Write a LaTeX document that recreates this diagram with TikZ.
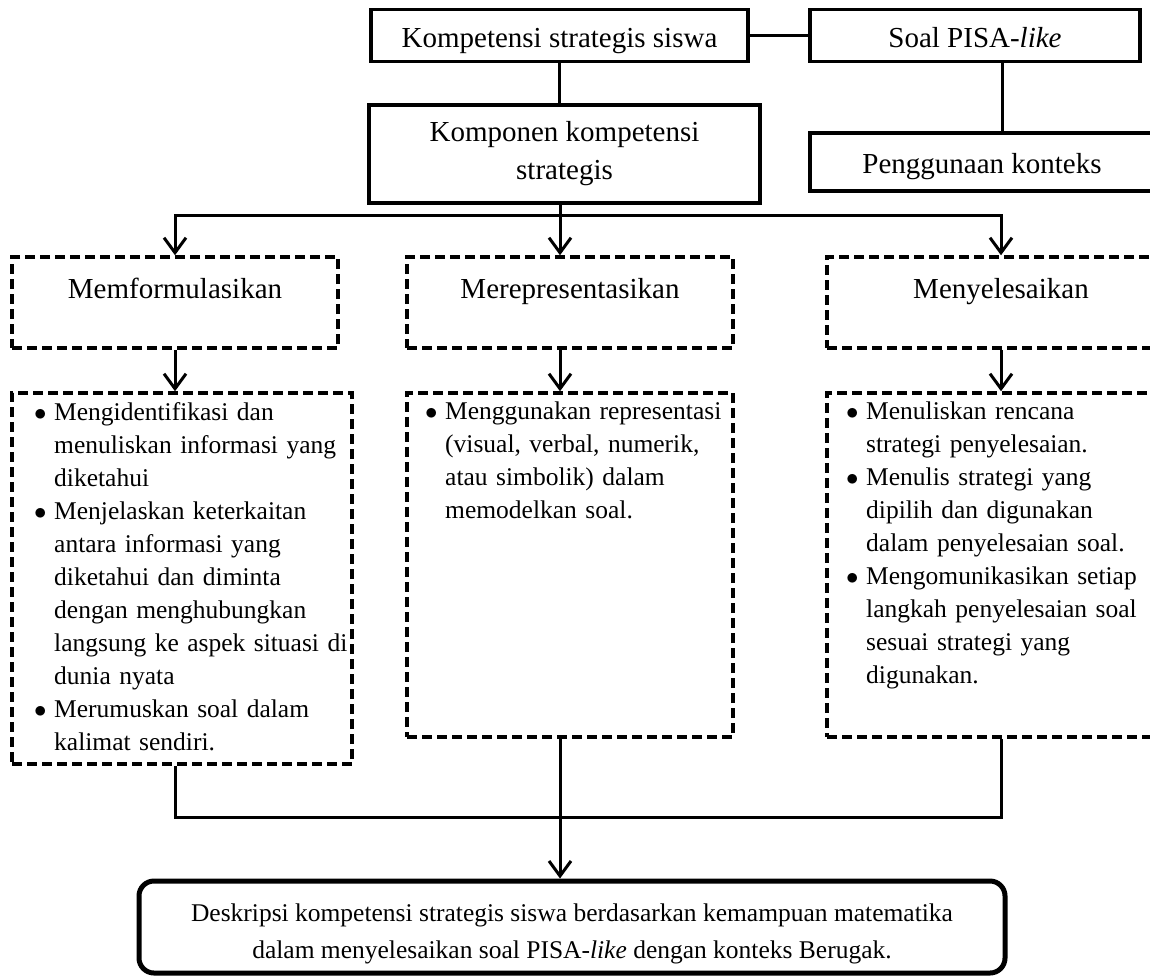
\documentclass[tikz,border=0pt]{standalone}
\usepackage{fontspec}
\setmainfont{Liberation Serif}
\usetikzlibrary{arrows.meta}

\newcommand{\headfont}{\fontsize{29}{38}\selectfont}
\newcommand{\bodyfont}{\fontsize{25.5}{33}\selectfont}
\newcommand{\itm}{\hangindent=20pt\hangafter=1\noindent\makebox[20pt][l]{$\bullet$}}

\begin{document}
\begin{tikzpicture}[x=1pt,y=1pt,yscale=-1,
  solidbox/.style={draw,line width=3.5pt,inner sep=0pt,font=\headfont},
  onerow/.style={text height=23pt,text depth=0pt},
  dashbox/.style={draw,line width=3.5pt,dash pattern=on 10pt off 5pt,inner sep=0pt},
  dashhead/.style={dashbox,font=\headfont,text height=20pt,text depth=29pt},
  itemtext/.style={anchor=north west,inner sep=0pt,text width=320pt,align=left,font=\bodyfont},
  link/.style={line width=3pt},
  arrowlink/.style={link,-{Straight Barb[length=15pt,width=22pt]}}]
\useasboundingbox (0,0) rectangle (1150,977);
\clip (0,0) rectangle (1150,977);

%Shape: Rectangle
\node[solidbox,onerow,minimum width=377pt,minimum height=52pt] (siswa) at (559.5,35.5) {Kompetensi strategis siswa};
%Shape: Rectangle
\node[solidbox,onerow,minimum width=330pt,minimum height=52pt] (pisa) at (975,35.5) {Soal PISA-\textit{like}};
%Shape: Rectangle
\node[solidbox,align=center,minimum width=391pt,minimum height=98pt] (komponen) at (564.5,154) {Komponen kompetensi\\strategis};
%Shape: Rectangle
\node[solidbox,onerow,minimum width=344pt,minimum height=58pt] (konteks) at (982,162) {Penggunaan konteks};

%Shape: Rectangle
\node[dashhead,minimum width=326pt,minimum height=91pt] (formulasi) at (175,302.5) {Memformulasikan};
%Shape: Rectangle
\node[dashhead,minimum width=326pt,minimum height=91pt] (representasi) at (570,302.5) {Merepresentasikan};
%Shape: Rectangle
\node[dashhead,minimum width=348pt,minimum height=91pt] (selesai) at (1001,302.5) {Menyelesaikan};

%Shape: Rectangle
\node[dashbox,minimum width=340pt,minimum height=371pt] (formBox) at (182,578.5) {};
%Shape: Rectangle
\node[dashbox,minimum width=326pt,minimum height=344pt] (repBox) at (570,565) {};
%Shape: Rectangle
\node[dashbox,minimum width=348pt,minimum height=344pt] (selBox) at (1001,565) {};

% Text Node
\node[itemtext] (formItems) at (34,402) {\itm Mengidentifikasi dan\newline menuliskan informasi yang\newline diketahui\par
\itm Menjelaskan keterkaitan\newline antara informasi yang\newline diketahui dan diminta\newline dengan menghubungkan\newline langsung ke aspek situasi di\newline dunia nyata\par
\itm Merumuskan soal dalam\newline kalimat sendiri.\par};
% Text Node
\node[itemtext] (repItems) at (425,402) {\itm Menggunakan representasi\newline (visual, verbal, numerik,\newline atau simbolik) dalam\newline memodelkan soal.\par};
% Text Node
\node[itemtext] (selItems) at (846,402) {\itm Menuliskan rencana\newline strategi penyelesaian.\par
\itm Menulis strategi yang\newline dipilih dan digunakan\newline dalam penyelesaian soal.\par
\itm Mengomunikasikan setiap\newline langkah penyelesaian soal\newline sesuai strategi yang\newline digunakan.\par};

%Shape: Rounded Rect
\node[draw,line width=5pt,rounded corners=15pt,minimum width=866pt,minimum height=92pt] (deskBox) at (572,927) {};
% Text Node
\node[font=\fontsize{25.5}{37}\selectfont,align=center,inner sep=0pt] (deskText) at (572,933.5) {Deskripsi kompetensi strategis siswa berdasarkan kemampuan matematika\\dalam menyelesaikan soal PISA-\textit{like} dengan konteks Berugak.};

\coordinate (split) at (560,215);
\coordinate (merge) at (560,817);

%Straight Lines
\draw[link] (siswa) -- (pisa);
%Straight Lines
\draw[link] (siswa.south) -- (siswa.south |- komponen.north);
%Straight Lines
\draw[link] ([xshift=27pt]pisa.south) -- ([xshift=27pt]pisa.south |- konteks.north);
%Straight Lines
\draw[arrowlink] (komponen.south -| split) -- (representasi.north -| split);
\draw[arrowlink] (split) -| (formulasi.north);
\draw[arrowlink] (split) -| (selesai.north);
%Straight Lines
\draw[arrowlink] (formulasi.south) -- (formulasi.south |- formBox.north);
\draw[arrowlink] (representasi.south -| split) -- (repBox.north -| split);
\draw[arrowlink] (selesai.south) -- (selesai.south |- selBox.north);
%Straight Lines
\draw[link] (formBox.south -| formulasi.south) |- (merge) -| (selBox.south);
\draw[arrowlink] (repBox.south -| split) -- (deskBox.north -| split);

\end{tikzpicture}
\end{document}
